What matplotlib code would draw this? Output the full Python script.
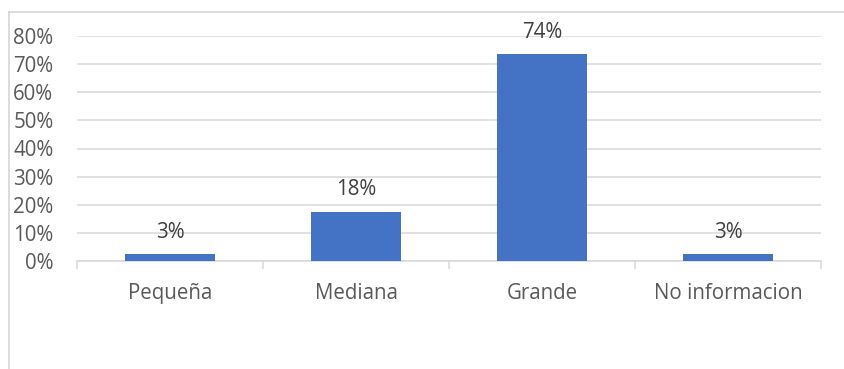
import matplotlib
matplotlib.use("Agg")
import matplotlib.pyplot as plt
from matplotlib.lines import Line2D

categories = ["Pequeña", "Mediana", "Grande", "No informacion"]
values = [2.6, 17.6, 73.6, 2.6]
yticks = [0, 10, 20, 30, 40, 50, 60, 70, 80]

plt.rcParams['font.family'] = ['Open Sans', 'DejaVu Sans']
txt = '#595959'
grid = '#d9d9d9'
fs = 14.8

fig = plt.figure(figsize=(8.44, 3.69), dpi=100)
ax = fig.add_axes([77/844, 1 - 261/369, (821-77)/844, (261-36)/369])

x = range(len(categories))
ax.bar(x, values, width=0.48, color='#4472C4', zorder=3)
for i, v in enumerate(values):
    ax.annotate(f"{v:.0f}%", (i, v), xytext=(0, 8), textcoords='offset points',
                ha='center', va='bottom', fontsize=fs, color='#404040')

ax.set_xlim(-0.5, len(categories) - 0.5)
ax.set_ylim(0, 80)
ax.set_yticks(yticks)
ax.set_yticklabels([f"{t}%" for t in yticks])
ax.tick_params(axis='y', length=0, labelsize=fs, labelcolor=txt, pad=17)
ax.yaxis.grid(True, color=grid, linewidth=1.1, zorder=0)

# category boundaries as major ticks, names as minor ticks
ax.set_xticks([i - 0.5 for i in range(len(categories) + 1)])
ax.set_xticklabels([])
ax.set_xticks(list(x), minor=True)
ax.set_xticklabels(categories, minor=True)
ax.tick_params(axis='x', which='major', length=6, color=grid, width=1.1)
ax.tick_params(axis='x', which='minor', length=0, labelsize=fs, labelcolor=txt, pad=16)

for s in ['top', 'right', 'left']:
    ax.spines[s].set_visible(False)
ax.spines['bottom'].set_color(grid)
ax.spines['bottom'].set_linewidth(1.1)

# chart border (left and top edges visible)
fig.add_artist(Line2D([8.5/844, 8.5/844], [0, 1 - 12/369], color=grid, linewidth=1.3))
fig.add_artist(Line2D([8.5/844, 1], [1 - 12/369, 1 - 12/369], color=grid, linewidth=1.3))

fig.savefig("out.png", dpi=100)
